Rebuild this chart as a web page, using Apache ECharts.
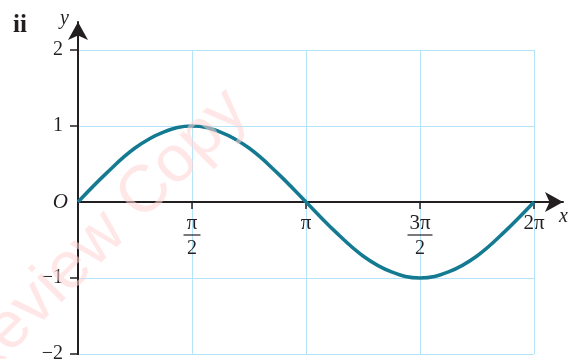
<!DOCTYPE html>
<html>
<head>
	<meta charset="utf-8">
	<title>y = sin x</title>
	<script type="text/javascript" src="https://cdn.jsdelivr.net/npm/echarts@6/dist/echarts.min.js"></script>
	<style>
		body { margin: 0; background: #fff; }
	</style>
</head>

<body>
	<div style="height: 359px; width: 579px" id="sine"></div>

	<script type="text/javascript">
		// x in units of pi, y
		var xInPi = [0, 0.125, 0.25, 0.375, 0.5, 0.625, 0.75, 0.875, 1, 1.125, 1.25, 1.375, 1.5, 1.625, 1.75, 1.875, 2]
		var yVals = [0, 0.38, 0.71, 0.92, 1, 0.92, 0.71, 0.38, 0, -0.38, -0.71, -0.92, -1, -0.92, -0.71, -0.38, 0]
		var xLabels = ['', 'π/2', 'π', '3π/2', '2π']
		var yLabels = {'-2': '−2', '-1': '−1', '0': 'O', '1': '1', '2': '2'}

		var PI = Math.PI
		var ink = '#231f20'
		var serif = 'Liberation Serif'

		function get_data(){
			var lst = []
			for (var i = 0; i < xInPi.length; i++){
				lst.push([xInPi[i] * PI, yVals[i]])
			}
			return lst
		}

		// 'a/b' -> stacked fraction with a rule between
		function fmt_x(v){
			var k = Math.round(v / (PI / 2))
			var s = xLabels[k] || ''
			if (!s) return ''
			if (s.indexOf('/') < 0) return '{n|' + s + '}'
			var parts = s.split('/')
			var bar = parts[0].length > 1 ? 'barL' : 'barS'
			return '{n|' + parts[0] + '}\n{' + bar + '| }\n{dn|' + parts[1] + '}'
		}

		function fmt_y(v){
			var s = yLabels[String(v)]
			if (s === 'O') return '{o|O}'
			return '{d|' + s + '}'
		}

		var chart = echarts.init(document.getElementById('sine'));
		var option = {
			animation: false,
			backgroundColor: '#fff',
			grid: [
				{left: 78, top: 50, width: 456, height: 304, outerBoundsMode: 'none'},
				{left: 78, top: 22, width: 485, height: 332, outerBoundsMode: 'none'}
			],
			xAxis: [
				{
					gridIndex: 0,
					type: 'value',
					min: 0,
					max: 2 * PI,
					interval: PI / 2,
					position: 'bottom',
					offset: -152,
					axisLine: {show: true, onZero: false, lineStyle: {color: ink, width: 2}},
					axisTick: {
						show: true,
						customValues: [PI / 2, PI, 3 * PI / 2, 2 * PI],
						length: 7,
						lineStyle: {color: ink, width: 1.5}
					},
					axisLabel: {
						customValues: [PI / 2, PI, 3 * PI / 2, 2 * PI],
						margin: 13,
						formatter: fmt_x,
						rich: {
							n: {fontFamily: serif, fontSize: 21, lineHeight: 17, color: ink},
							dn: {fontFamily: serif, fontSize: 20, lineHeight: 22, color: ink},
							barS: {width: 17, height: 1.2, lineHeight: 6, backgroundColor: ink},
							barL: {width: 25, height: 1.2, lineHeight: 6, backgroundColor: ink}
						}
					},
					splitLine: {show: true, lineStyle: {color: '#b5e3f7', width: 1}}
				},
				{
					gridIndex: 1,
					type: 'value',
					min: 0,
					max: 2 * PI * 485 / 456,
					z: 1,
					name: 'x',
					nameLocation: 'end',
					nameGap: -4,
					nameTextStyle: {
						fontFamily: serif, fontStyle: 'italic', fontSize: 20, color: ink,
						align: 'left', verticalAlign: 'top', padding: [5, 0, 0, 0]
					},
					axisLine: {
						show: true, onZero: true,
						symbol: ['none', 'arrow'], symbolSize: [15, 18],
						lineStyle: {color: ink, width: 2}
					},
					axisTick: {show: false},
					axisLabel: {show: false},
					splitLine: {show: false}
				}
			],
			yAxis: [
				{
					gridIndex: 0,
					type: 'value',
					min: -2,
					max: 2,
					interval: 1,
					axisLine: {show: true, lineStyle: {color: ink, width: 2}},
					axisTick: {
						show: true,
						customValues: [-2, -1, 1, 2],
						length: 8,
						lineStyle: {color: ink, width: 1.5}
					},
					axisLabel: {
						margin: 10,
						formatter: fmt_y,
						rich: {
							d: {fontFamily: serif, fontSize: 20, color: ink, padding: [0, 5, 0, 0]},
							o: {fontFamily: serif, fontSize: 21, fontStyle: 'italic', color: ink}
						}
					},
					splitLine: {show: true, lineStyle: {color: '#b5e3f7', width: 1}}
				},
				{
					gridIndex: 1,
					type: 'value',
					min: -2,
					max: -2 + 4 * 332 / 304,
					z: 1,
					name: 'y',
					nameLocation: 'end',
					nameGap: 3,
					nameTextStyle: {
						fontFamily: serif, fontStyle: 'italic', fontSize: 20, color: ink,
						align: 'right', verticalAlign: 'middle', padding: [0, 9, 0, 0]
					},
					axisLine: {
						show: true,
						symbol: ['none', 'arrow'], symbolSize: [15, 18],
						lineStyle: {color: ink, width: 2}
					},
					axisTick: {show: false},
					axisLabel: {show: false},
					splitLine: {show: false}
				}
			],
			series: [
				{
					name: 'sin x',
					type: 'line',
					xAxisIndex: 0,
					yAxisIndex: 0,
					data: get_data(),
					smooth: 0.4,
					showSymbol: false,
					z: 5,
					lineStyle: {color: '#137a92', width: 3.5}
				}
			],
			graphic: [
				{
					type: 'text',
					left: 13,
					top: 13,
					style: {text: 'ii', font: 'bold 25px "Liberation Serif"', fill: ink}
				},
				{
					type: 'text',
					x: 100,
					y: 238,
					rotation: 45 * PI / 180,
					z: 100,
					silent: true,
					style: {
						text: 'Review Copy',
						font: '66px "Liberation Sans"',
						fill: 'rgba(255, 212, 212, 0.55)',
						align: 'center',
						verticalAlign: 'middle'
					}
				}
			]
		};

		chart.setOption(option);
	</script>
</body>
</html>
